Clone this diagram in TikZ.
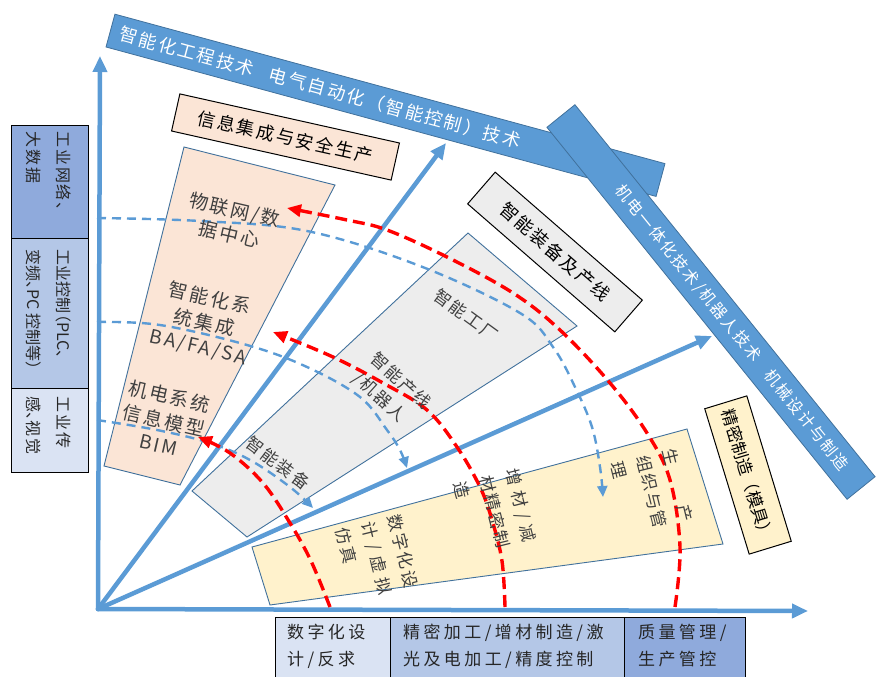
\documentclass[tikz,border=0pt]{standalone}
\usepackage{fontspec}
\newfontfamily\cjk{Noto Sans CJK SC}
\newfontfamily\cjkls[LetterSpace=12]{Noto Sans CJK SC}
\newfontfamily\cjkwide[LetterSpace=20]{Noto Sans CJK SC}
\usetikzlibrary{arrows.meta,calc}
\definecolor{axblue}{HTML}{5B9BD5}
\definecolor{edgeblue}{HTML}{41719C}
\definecolor{peach}{HTML}{FBE5D6}
\definecolor{lgray}{HTML}{EDEDED}
\definecolor{lyellow}{HTML}{FFF2CC}
\definecolor{boxA}{HTML}{8FAADC}
\definecolor{boxB}{HTML}{B4C7E7}
\definecolor{boxC}{HTML}{DAE3F3}
\definecolor{txtgray}{HTML}{404040}
\definecolor{txtdark}{HTML}{262626}
\begin{document}
\begin{tikzpicture}[x=1pt,y=-1pt,
  banner/.style={draw=edgeblue, fill=axblue, line width=0.8pt, inner sep=0pt},
  bannertext/.style={text=white, inner sep=0pt, anchor=west},
  labelbox/.style={draw=black, line width=1pt, inner sep=0pt, text=black},
  region/.style={draw=edgeblue, line width=0.9pt},
  sidebox/.style={draw=black, line width=1.4pt, inner sep=0pt, anchor=north west},
  sidetext/.style={text=txtdark, inner sep=0pt, align=left, rotate=-90, anchor=north west, font=\cjkls\fontsize{16}{30}\selectfont},
  bottomtext/.style={text=txtdark, inner sep=0pt, align=left, anchor=north west, font=\cjkwide\fontsize{17}{27}\selectfont},
  rtext/.style={text=txtgray, inner sep=0pt, align=center, font=\cjkls\fontsize{19}{25}\selectfont},
  gtext/.style={text=txtgray, inner sep=0pt, align=left, font=\cjkls\fontsize{17}{26}\selectfont},
  ytext/.style={text=txtgray, inner sep=0pt, align=left, rotate=-76, font=\cjkls\fontsize{17}{27}\selectfont},
  ray/.style={draw=axblue, line width=4.5pt, line cap=round, -{Triangle[length=16pt,width=14pt]}},
  bluearc/.style={draw=axblue, line width=2.4pt, dash pattern=on 9pt off 6pt, -{Triangle[length=11pt,width=10pt]}},
  redarc/.style={draw=red, line width=3.4pt, dash pattern=on 12pt off 6pt, -{Triangle[length=14pt,width=12pt]}}
]
\useasboundingbox (0,0) rectangle (876,677);

% banners
\node[banner, rotate=-15.2, minimum width=570pt, minimum height=34pt] (ban1) at (385.5,105.3) {};
\node[bannertext, rotate=-15.2, font=\cjkls\fontsize{18}{20}\selectfont] (ban1t) at ($(ban1.west)!10pt!(ban1.east)$) {智能化工程技术\hspace{0.9em}电气自动化（智能控制）技术};
\node[banner, rotate=-51.1, minimum width=478pt, minimum height=36pt] (ban2) at (711,302) {};
\node[bannertext, rotate=-51.1, font=\cjkls\fontsize{16}{20}\selectfont] (ban2t) at ($(ban2.west)!92pt!(ban2.east)$) {机电一体化技术/机器人技术\hspace{1em}机械设计与制造};

% labelled boxes
\node[labelbox, fill=peach, rotate=-12.6, minimum width=225pt, minimum height=38pt, font=\cjkls\fontsize{18}{20}\selectfont] (info) at (285.5,137) {信息集成与安全生产\hspace{20pt}};
\node[labelbox, fill=lgray, rotate=-41, minimum width=195pt, minimum height=42pt, font=\cjkls\fontsize{18}{20}\selectfont] (equip) at (555,252) {智能装备及产线};
\node[labelbox, fill=lyellow, rotate=-73, minimum width=152pt, minimum height=44pt, font=\cjk\fontsize{17}{20}\selectfont] (prec) at (748,475) {精密制造（模具）};

% left boxes
\node[sidebox, fill=boxA, minimum width=77pt, minimum height=113pt] (s1) at (11,125) {};
\node[sidebox, fill=boxB, minimum width=77pt, minimum height=150pt] (s2) at (11,238) {};
\node[sidebox, fill=boxC, minimum width=77pt, minimum height=84pt] (s3) at (11,388) {};
\node[sidetext] (s1t) at (71,131) {工业网络、\\大数据};
\node[sidetext, font=\cjk\fontsize{16}{30}\selectfont] (s2t) at (71,249) {工业控制\makebox[0.55em][r]{（}PLC\makebox[0.5em][l]{、}\\变频\makebox[0.5em][l]{、}PC 控制等\makebox[0.5em][l]{）}};
\node[sidetext] (s3t) at (71,396) {工业传\\感\makebox[0.5em][l]{、}视觉};

% bottom boxes
\node[sidebox, fill=boxC, minimum width=115pt, minimum height=64pt] (b1) at (275,617) {};
\node[sidebox, fill=boxB, minimum width=234pt, minimum height=64pt] (b2) at (390,617) {};
\node[sidebox, fill=boxA, minimum width=121pt, minimum height=64pt] (b3) at (624,617) {};
\node[bottomtext] (b1t) at (287,624) {数字化设\\计/反求};
\node[bottomtext] (b2t) at (403,624) {精密加工/增材制造/激\\光及电加工/精度控制};
\node[bottomtext] (b3t) at (638,624) {质量管理/\\生产管控};

% regions
\draw[region, fill=peach] (184,147) -- (335,185) -- (180,485) -- (104,466) -- cycle;
\draw[region, fill=lgray] (468,233) -- (577,326) -- (247,537) -- (192,491) -- cycle;
\draw[region, fill=lyellow] (252,547) -- (687,429) -- (723,544) -- (270,605) -- cycle;

% axes and rays
\coordinate (O) at (98,609);
\coordinate (yTip) at (100,56);
\coordinate (xTip) at (808,611);
\coordinate (r1Tip) at (446,143);
\coordinate (r2Tip) at (712,336);
\draw[ray] (O) -- (yTip);
\draw[ray] (O) -- (xTip);
\draw[ray] (O) -- (r1Tip);
\draw[ray] (O) -- (r2Tip);

% blue dashed arcs
\draw[bluearc] plot[smooth, tension=0.6] coordinates {(97,218) (200,221) (307,231) (420,266) (520,313) (553,347) (575,387) (592,427) (600,467) (603,497)};
\draw[bluearc] plot[smooth, tension=0.6] coordinates {(97,322) (160,325) (247,345) (307,367) (360,397) (387,430) (400,450) (407,468)};
\draw[bluearc] plot[smooth, tension=0.6] coordinates {(97,420) (157,430) (210,443) (250,460) (290,487) (313,508)};

% red dashed arcs
\draw[redarc] plot[smooth, tension=0.6] coordinates {(675,607) (680,547) (670,480) (647,433) (610,383) (560,330) (513,293) (447,257) (387,230) (347,220) (287,208)};
\draw[redarc] plot[smooth, tension=0.6] coordinates {(505,607) (502,561) (492,520) (480,487) (457,447) (427,410) (383,383) (333,357) (273,332)};
\draw[redarc] plot[smooth, tension=0.6] coordinates {(330,607) (311,561) (290,523) (263,483) (230,453) (198,437)};

% region labels
\node[rtext, rotate=-13] (p1) at (232,222) {物联网/数\\据中心};
\node[rtext, rotate=-13] (p2) at (204,323) {智能化系\\统集成\\BA/FA/SA};
\node[rtext, rotate=-13] (p3) at (164,420) {机电系统\\信息模型\\BIM};
\node[gtext, rotate=-36] (g1) at (466,315) {智能工厂};
\node[gtext, rotate=-42] (g2) at (392,391) {智能产线\\/机器人};
\node[gtext, rotate=-37] (g3) at (278,463) {智能装备};
\node[ytext] (y1) at (377,558) {数字化设\\\makebox[4.4em][s]{计\hfill{}/\hfill{}虚\hfill{}拟}\\仿真};
\node[ytext] (y2) at (495,512) {\makebox[4.4em][s]{增\hfill{}材\hfill{}/\hfill{}减}\\材精密制\\造};
\node[ytext] (y3) at (652,492) {\makebox[4.4em][s]{生\hfill{}产}\\组织与管\\理};
\end{tikzpicture}
\end{document}
